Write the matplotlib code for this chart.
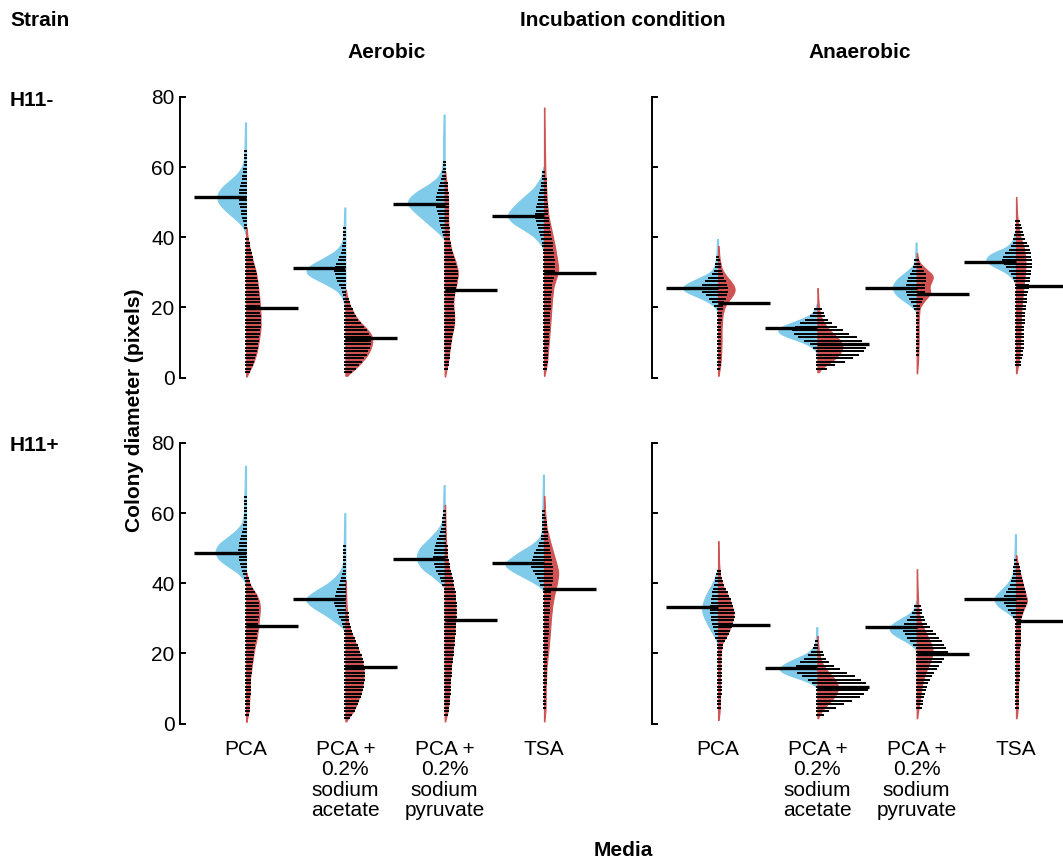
import numpy as np
import matplotlib
matplotlib.use("Agg")
import matplotlib.pyplot as plt

plt.rcParams['font.family'] = ['Liberation Sans', 'DejaVu Sans']

# categories
media = ["PCA", "PCA +\n0.2%\nsodium\nacetate", "PCA +\n0.2%\nsodium\npyruvate", "TSA"]
strains = ["H11-", "H11+"]
conditions = ["Aerobic", "Anaerobic"]

# medians (pixels), blue = left half, red = right half
med_blue_neg_aer = [51.4, 31.2, 49.5, 46.0]
med_red_neg_aer = [19.7, 11.4, 24.9, 29.9]
med_blue_neg_ana = [25.5, 14.0, 25.6, 33.0]
med_red_neg_ana = [21.3, 9.5, 23.7, 26.2]
med_blue_pos_aer = [48.6, 35.4, 47.0, 45.8]
med_red_pos_aer = [27.9, 16.1, 29.4, 38.5]
med_blue_pos_ana = [33.3, 15.7, 27.4, 35.5]
med_red_pos_ana = [28.1, 10.3, 19.8, 29.1]

# density profiles: (diameter, half width)
blue_neg_aer = [
    [(72.8, 1), (66, 1.5), (62, 2), (60, 4), (58, 9), (56, 17), (54, 25), (52, 29), (50, 28), (48, 22), (46, 14), (44, 6), (42.5, 2), (41, 0.5)],
    [(48.6, 1), (44, 1.5), (40, 2), (38, 4), (36, 10), (34, 22), (32, 35), (30.5, 40), (29, 36), (27, 22), (25, 9), (23, 3), (21, 1), (20, 0.3)],
    [(75, 1), (68, 1.5), (62, 1.5), (59, 3), (57, 7), (55, 16), (53, 28), (51, 36), (49.5, 37), (48, 33), (46, 25), (44, 17), (42, 9), (40.5, 3), (39.5, 0.5)],
    [(60, 0.5), (57, 3), (54, 10), (51, 22), (48, 33), (46, 37), (44, 31), (42, 19), (40, 9), (38, 3), (36.5, 0.5)],
]
red_neg_aer = [
    [(43, 0.5), (40, 1.5), (37, 3.5), (34, 6), (30, 10), (26, 12), (22, 13.5), (18, 14.5), (14, 14.5), (10, 12.5), (7, 10.5), (4, 7), (2, 3.5), (0.3, 0.5)],
    [(25, 0.5), (22, 2.5), (20, 5.5), (18, 9), (16, 14), (14, 21), (12, 26.5), (10, 27), (8, 25), (6, 21), (4, 15), (2, 8), (0.5, 1)],
    [(59, 0.5), (55, 2), (50, 3.5), (45, 3.5), (40, 4), (36, 7), (33, 11), (30, 13.5), (27, 12), (24, 9.5), (21, 8.5), (18, 9.5), (15, 9.5), (12, 7), (8, 5), (4, 3), (0.3, 0.5)],
    [(77, 0.5), (65, 1), (58, 1.5), (50, 3), (46, 4.5), (42, 7.5), (38, 10.5), (34, 13), (31, 14.5), (29, 13), (26, 9.5), (22, 8), (18, 7), (14, 6), (9, 4.5), (4, 3), (0.5, 0.5)],
]
blue_neg_ana = [
    [(39.5, 1), (35, 1.5), (32, 3), (30, 7), (28, 22), (26.5, 33), (25.5, 36), (24.5, 33), (23, 20), (21.5, 9), (20, 2.5), (19, 0.5)],
    [(21, 0.5), (19, 3), (17.5, 9), (16, 22), (15, 32), (14, 39), (13, 40), (12, 34), (11, 24), (10, 14), (9, 7), (8, 2.5), (7, 0.5)],
    [(38.5, 1), (34, 1.5), (32, 3), (30, 11), (28, 20), (26, 24.5), (24, 22), (22.5, 16), (21, 8), (19.5, 2), (19, 0.5)],
    [(42, 0.5), (39, 3), (37, 10), (35.5, 24), (34, 30), (33, 30), (31.5, 21), (30, 10), (28.5, 4), (27, 0.5)],
]
red_neg_ana = [
    [(37.5, 0.5), (34, 1.5), (31, 3.5), (29, 8), (27, 14), (25.5, 17), (24, 16), (22.5, 12), (20.5, 7), (18, 4.5), (14, 3.5), (10, 3.5), (6, 3), (3, 2), (0.5, 0.5)],
    [(25.5, 0.5), (22, 1), (19, 2), (17, 4), (15, 8), (13, 14), (11.5, 20), (10, 24), (9, 25.5), (7.5, 24), (6, 20), (4.5, 14), (3, 6), (1.5, 0.5)],
    [(35.5, 0.5), (33, 2), (31, 9), (29, 17), (27.5, 15), (26, 12.5), (24, 14), (22, 8), (20, 3), (16, 2), (10, 2), (5, 1.5), (1.2, 0.5)],
    [(51.5, 0.5), (47, 1), (43, 2.5), (40, 4.5), (37, 8), (34, 9.5), (31, 9.5), (27, 8), (23, 6.5), (18, 5), (13, 4.5), (8, 4), (4, 2.5), (1.2, 0.5)],
]
blue_pos_aer = [
    [(73.5, 1), (66, 1.5), (60, 2), (57, 4), (55, 10), (53, 19), (51, 28), (49, 31), (47, 28), (45, 19), (43, 8), (41, 2), (40, 0.5)],
    [(60, 1), (52, 1.5), (46, 2), (44, 4), (42, 9), (40, 17), (38, 29), (36, 39), (35, 40), (33, 32), (31, 20), (29, 10), (27.5, 3), (26.5, 0.5)],
    [(68, 1), (62, 1.5), (58, 2), (56, 5), (54, 11), (52, 18), (50, 25), (48, 28), (46, 27), (44, 22), (42, 12), (40, 4), (39, 0.5)],
    [(71, 1), (62, 1.5), (55, 2), (53, 4), (51, 12), (49, 24), (47, 34), (45.5, 40), (44, 35), (42, 22), (40, 9), (38.5, 1.5), (38, 0.5)],
]
red_pos_aer = [
    [(43, 0.5), (41, 2), (39, 5), (37, 10), (35, 13), (33, 14), (30, 13), (27, 12), (24, 10.5), (21, 8), (17, 6), (13, 4), (8, 3.5), (3.5, 2.5), (0.5, 0.5)],
    [(41, 0.5), (35, 1), (30, 2), (27, 4.5), (24, 8.5), (21, 13), (18, 16.5), (15, 18.5), (12, 18), (9, 15.5), (6, 12), (3.5, 8), (0.6, 0.5)],
    [(62.5, 0.5), (55, 1), (48, 2), (44, 4.5), (41, 7), (37, 10), (32, 11), (27, 10), (22, 8.5), (17, 6.5), (12, 5), (8, 4.5), (3.5, 3), (0.6, 0.5)],
    [(65, 0.5), (61, 1), (56, 2.5), (52, 6), (48, 10), (45, 13), (43, 14.5), (40, 13), (37, 10.5), (34, 8.5), (30, 7), (26, 6), (21, 4.5), (16, 2.5), (10, 1.8), (4, 1.6), (0.6, 0.5)],
]
blue_pos_ana = [
    [(44, 0.5), (42, 2.5), (40, 5.5), (38, 9.5), (36, 13), (34, 15.5), (32, 16), (30, 13.5), (28, 10), (26, 6), (24, 2), (22.5, 0.5)],
    [(27.5, 1), (24, 1.5), (22, 3), (20, 10), (18.5, 22), (17, 33), (16, 38), (15, 38), (14, 31), (13, 20), (12, 10), (11, 3), (10.5, 0.5)],
    [(35, 0.5), (33, 2), (31.5, 6), (30, 15), (28.5, 24), (27.2, 28), (26, 26), (24.5, 18), (23, 8), (21.5, 1.5), (21, 0.5)],
    [(54, 1), (48, 1.5), (44, 2), (42, 4), (40, 8), (38, 15), (36, 22), (34.5, 21), (33, 16), (31.5, 7), (30, 2), (29.5, 0.5)],
]
red_pos_ana = [
    [(52, 0.5), (46, 1), (42, 2), (39, 5), (37, 9), (35, 12), (32, 15.5), (30, 15), (27.5, 12.5), (25, 8.5), (23, 4), (20, 2.5), (14, 2), (8, 2), (3, 1.5), (1, 0.5)],
    [(25, 0.5), (22, 1), (19, 2.5), (17, 5), (15, 10), (13.5, 15), (12, 19), (10.5, 21), (9, 20), (7.5, 17), (6, 12), (4.5, 7), (3, 3), (1.5, 0.5)],
    [(44, 0.5), (38, 1), (32, 2), (29, 4), (26, 9), (23, 14), (20.5, 16.5), (18, 14), (15, 9.5), (12, 6), (9, 4), (5.5, 2.5), (1.5, 0.5)],
    [(48, 0.5), (45, 2), (42, 5), (39, 7.5), (37, 9.5), (35, 11.5), (33.5, 9), (31, 5.5), (29, 3.5), (25, 4), (20, 3), (14, 2.5), (8, 2), (3, 1.5), (1.5, 0.5)],
]

# colony counts relative to violin width (bar length / violin width)
count_blue_neg_aer = [0.2, 0.25, 0.2, 0.2]
count_red_neg_aer = [0.9, 0.9, 0.9, 0.7]
count_blue_neg_ana = [0.45, 0.6, 0.4, 0.4]
count_red_neg_ana = [0.5, 1.9, 0.5, 1.5]
count_blue_pos_aer = [0.2, 0.25, 0.35, 0.3]
count_red_pos_aer = [0.85, 1.0, 1.0, 0.55]
count_blue_pos_ana = [0.4, 0.55, 0.45, 0.5]
count_red_pos_ana = [1.0, 2.4, 1.8, 0.9]

BLUE = "#80cbea"
RED = "#d05353"
PX = 1 / 99.3  # one pixel in x data units


def half_violin(ax, x, knots, side, color, ratio, med):
    kn = sorted(knots)
    ky = np.array([k[0] for k in kn])
    kw = np.array([k[1] for k in kn])
    yy = np.arange(ky[0], ky[-1] + 0.001, 0.25)
    ww = np.interp(yy, ky, kw)
    ww = np.convolve(np.pad(ww, 3, mode="edge"), np.ones(7) / 7, mode="valid")
    ww = np.maximum(ww, 0.6)
    if side < 0:
        ax.fill_betweenx(yy, x - ww * PX, x, color=color, lw=0.8, zorder=1)
    else:
        ax.fill_betweenx(yy, x, x + ww * PX, color=color, lw=0.8, zorder=1)
    # stacked colony bars
    by = np.arange(np.ceil(ky[0]) + 0.5, ky[-1], 1.0)
    bw = np.interp(by, ky, kw)
    keep = bw >= 1.6
    by, bw = by[keep], bw[keep]
    blen = (ratio * bw + 1.5) * PX
    if side < 0:
        ax.hlines(by, x - blen, x + PX, color="black", lw=1.4, zorder=2)
        ax.hlines(med, x - 52 * PX, x, color="black", lw=2.4, zorder=3)
    else:
        ax.hlines(by, x - PX, x + blen, color="black", lw=1.4, zorder=2)
        ax.hlines(med, x, x + 52 * PX, color="black", lw=2.4, zorder=3)


panels = [
    (0, 0, blue_neg_aer, red_neg_aer, med_blue_neg_aer, med_red_neg_aer, count_blue_neg_aer, count_red_neg_aer),
    (0, 1, blue_neg_ana, red_neg_ana, med_blue_neg_ana, med_red_neg_ana, count_blue_neg_ana, count_red_neg_ana),
    (1, 0, blue_pos_aer, red_pos_aer, med_blue_pos_aer, med_red_pos_aer, count_blue_pos_aer, count_red_pos_aer),
    (1, 1, blue_pos_ana, red_pos_ana, med_blue_pos_ana, med_red_pos_ana, count_blue_pos_ana, count_red_pos_ana),
]

W, H = 1063, 861
fig = plt.figure(figsize=(W / 100, H / 100), dpi=100)
fs = 15

xpos = np.arange(1, len(media) + 1)
for r, c, bl, rd, mb, mr, cb, cr in panels:
    left = 180 if c == 0 else 652
    right = 652 if c == 0 else W
    bottom_px = 377.5 if r == 0 else 723.5
    ax = fig.add_axes([left / W, 1 - bottom_px / H, (right - left) / W, 280.5 / H])
    ax.set_ylim(0, 80)
    ax.set_xlim(0.335, 0.335 + (right - left) * PX)
    for i, x in enumerate(xpos):
        half_violin(ax, x, bl[i], -1, BLUE, cb[i], mb[i])
        half_violin(ax, x, rd[i], 1, RED, cr[i], mr[i])
    for s in ["top", "right", "bottom"]:
        ax.spines[s].set_visible(False)
    ax.spines["left"].set_linewidth(1.4)
    ax.set_yticks([0, 20, 40, 60, 80])
    ax.tick_params(axis="y", direction="in", length=4, width=1.4, labelsize=fs, pad=4)
    if c == 1:
        ax.tick_params(axis="y", labelleft=False)
    ax.set_xticks(xpos)
    ax.tick_params(axis="x", length=0, labelsize=fs, pad=12)
    if r == 1:
        ax.set_xticklabels(media, linespacing=1.08, va="top")
    else:
        ax.set_xticklabels([])

fig.text(10 / W, 1 - 20 / H, "Strain", fontsize=fs, fontweight="bold", va="center")
fig.text(623 / W, 1 - 20 / H, "Incubation condition", fontsize=fs, fontweight="bold", ha="center", va="center")
fig.text(387 / W, 1 - 53 / H, conditions[0], fontsize=fs, fontweight="bold", ha="center", va="center")
fig.text(860 / W, 1 - 53 / H, conditions[1], fontsize=fs, fontweight="bold", ha="center", va="center")
fig.text(10 / W, 1 - 101 / H, strains[0], fontsize=fs, fontweight="bold", va="center")
fig.text(10 / W, 1 - 446 / H, strains[1], fontsize=fs, fontweight="bold", va="center")
fig.text(134 / W, 1 - 410 / H, "Colony diameter (pixels)", fontsize=fs, fontweight="bold",
         rotation=90, ha="center", va="center")
fig.text(623 / W, 1 - 850 / H, "Media", fontsize=fs, fontweight="bold", ha="center", va="center")

fig.savefig("out.png", dpi=100)
